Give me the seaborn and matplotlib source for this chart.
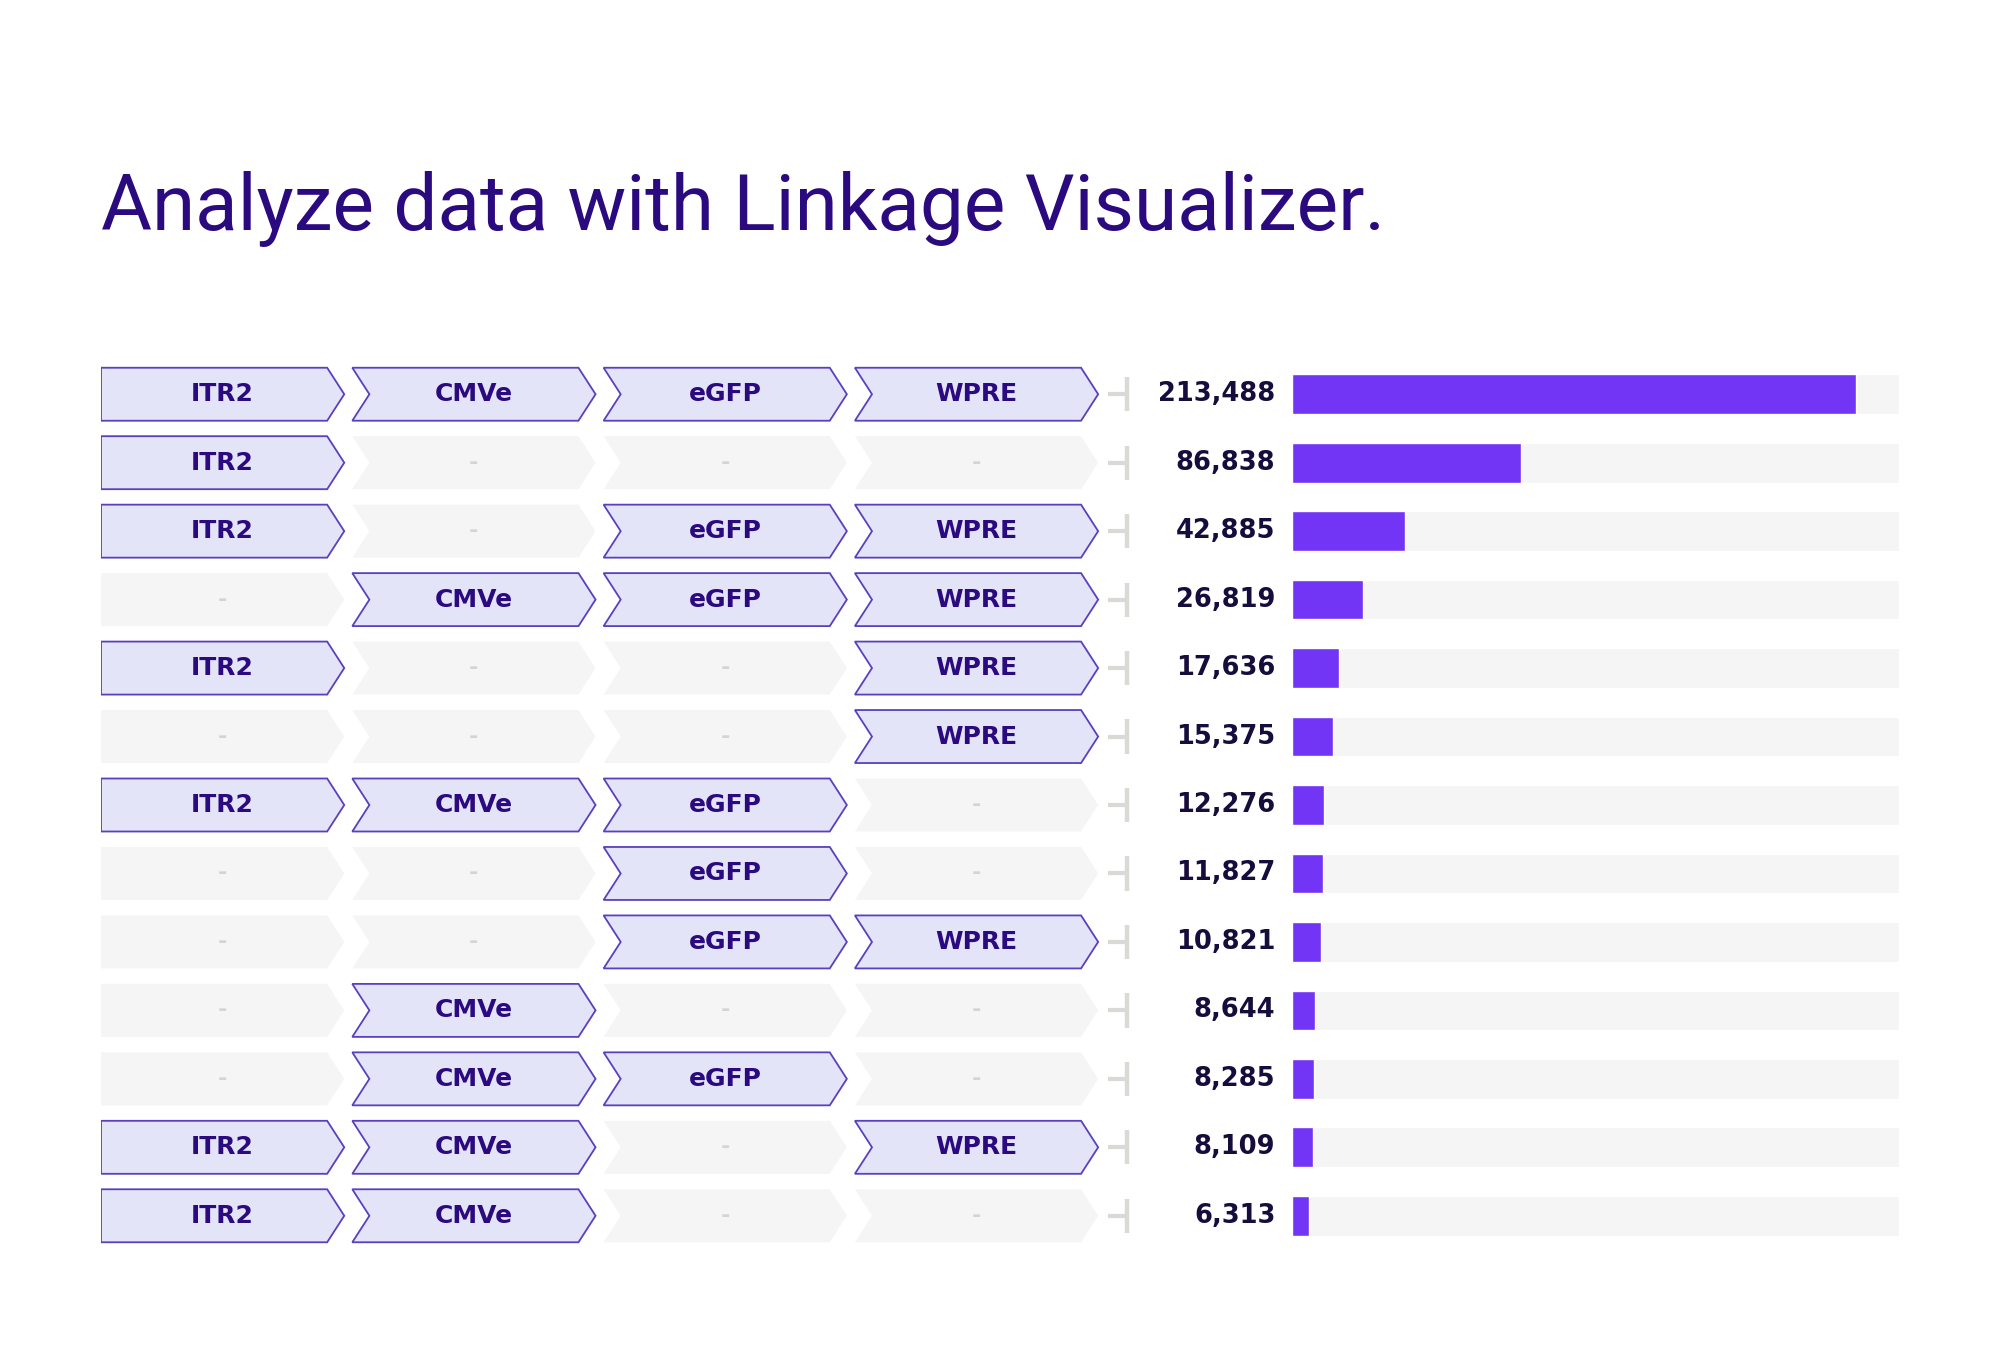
import pandas as pd
import matplotlib.pyplot as plt
import seaborn as sns
from matplotlib.patches import Polygon

# Linkage rows: which element is present in each position, plus read counts
itr2 = ['ITR2', 'ITR2', 'ITR2', '', 'ITR2', '', 'ITR2', '', '', '', '', 'ITR2', 'ITR2']
cmve = ['CMVe', '', '', 'CMVe', '', '', 'CMVe', '', '', 'CMVe', 'CMVe', 'CMVe', 'CMVe']
egfp = ['eGFP', '', 'eGFP', 'eGFP', '', '', 'eGFP', 'eGFP', 'eGFP', '', 'eGFP', '', '']
wpre = ['WPRE', '', 'WPRE', 'WPRE', 'WPRE', 'WPRE', '', '', 'WPRE', '', '', 'WPRE', '']
counts = [213488, 86838, 42885, 26819, 17636, 15375, 12276, 11827, 10821, 8644, 8285, 8109, 6313]
track_max = 229750

title = 'Analyze data with Linkage Visualizer.'

INDIGO = '#2b0a80'
PURPLE = '#7234f5'
FILL = '#e4e4f8'
EDGE = '#5a40bf'
GREY = '#f5f5f5'
DASH = '#d4d4d4'
NAVY = '#160d3c'

sns.set_theme(style='white')
plt.rcParams['font.family'] = ['DejaVu Sans']

df = pd.DataFrame({'row': [str(i) for i in range(len(counts))], 'count': counts})
columns = [itr2, cmve, egfp, wpre]
n = len(counts)

fig = plt.figure(figsize=(20, 13.5), dpi=100)
fig.patch.set_facecolor('white')

# axes spans rows from top of row 0 to bottom of row 12
ax_bottom = 1 - 1250 / 1350
ax_height = 890 / 1350

# left: construct chevrons
axl = fig.add_axes([101 / 2000, ax_bottom, (1140 - 101) / 2000, ax_height])
axl.set_xlim(0, (1140 - 101) / 251.3)
axl.set_ylim(n - 0.5, -0.5)
axl.axis('off')

w, d, h = 0.968, 0.068, 0.387
for c, col in enumerate(columns):
    for r, name in enumerate(col):
        x0 = c
        pts = [(x0, r - h), (x0 + w - d, r - h), (x0 + w, r), (x0 + w - d, r + h), (x0, r + h)]
        if c > 0:
            pts.append((x0 + d, r))
        if name:
            axl.add_patch(Polygon(pts, closed=True, facecolor=FILL, edgecolor=EDGE, linewidth=1.3))
            axl.text(x0 + w / 2, r, name, ha='center', va='center', fontsize=18,
                     fontweight='bold', color=INDIGO)
        else:
            axl.add_patch(Polygon(pts, closed=True, facecolor=GREY, edgecolor='none'))
            axl.text(x0 + w / 2, r, '-', ha='center', va='center', fontsize=16,
                     fontweight='bold', color=DASH)

# connector
for r in range(n):
    axl.plot([4.008, 4.075], [r, r], color='#d9d9d6', lw=3, solid_capstyle='butt')
    axl.plot([4.082, 4.082], [r - 0.25, r + 0.25], color='#d9d9d6', lw=3.2, solid_capstyle='butt')

# right: bars
axr = fig.add_axes([1292 / 2000, ax_bottom, (1899 - 1292) / 2000, ax_height])
axr.barh(range(n), [track_max] * n, height=0.58, color=GREY, zorder=0)
sns.barplot(data=df, x='count', y='row', orient='h', color=PURPLE, width=0.58,
            saturation=1, ax=axr, zorder=2)
axr.set_xlim(0, track_max)
axr.set_ylim(n - 0.5, -0.5)
axr.axis('off')
for r, v in enumerate(counts):
    axr.annotate(f'{v:,}', xy=(0, r), xycoords='data', xytext=(-12, 0), textcoords='offset points',
                 ha='right', va='center', fontsize=18.5, fontweight='bold', color=NAVY)

fig.text(101 / 2000, 1 - 230 / 1350, title, ha='left', va='baseline', fontsize=56.3,
         color=INDIGO, family=['Roboto', 'DejaVu Sans'])

fig.savefig('out.png', dpi=100, facecolor='white')
